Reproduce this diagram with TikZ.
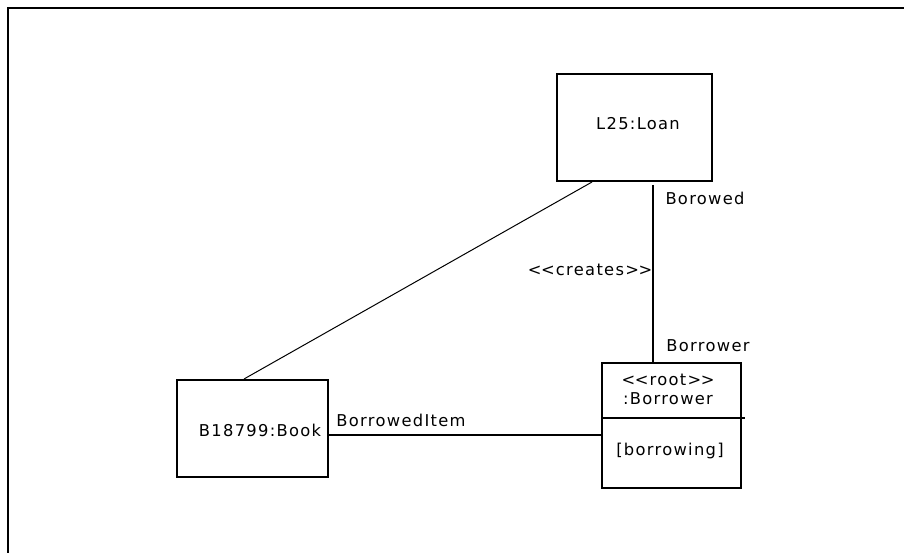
\documentclass[tikz,border=0pt]{standalone}
\usepackage{fontspec}
\setmainfont{DejaVu Sans}[LetterSpace=8]
\usetikzlibrary{calc}
% two angle brackets kept apart so they stay as typed
\newcommand{\dblopen}{<\kern-0.5pt<}
\newcommand{\dblclose}{>\kern-0.5pt>}
\begin{document}
\begin{tikzpicture}[x=1pt,y=-1pt,
  objbox/.style={draw,line width=2pt,minimum width=#1,inner sep=0pt},
  lbl/.style={font=\fontsize{16.3}{19}\selectfont,inner sep=0pt},
  thick link/.style={line width=2pt},
  thin link/.style={line width=1pt}]
  \useasboundingbox (0,0) rectangle (904,553);
  % outer frame (left and top edges)
  \draw[line width=2pt] (8,553) -- (8,8) -- (904,8);

  % objects
  \node[objbox=155pt,minimum height=107pt] (loan) at (634.5,127.5) {};
  \node[lbl] (loantxt) at (638,124) {L25:Loan};

  \node[objbox=151pt,minimum height=97pt] (book) at (252.5,428.5) {};
  \node[lbl] (booktxt) at (260,430) {B18799:Book};

  \node[objbox=139pt,minimum height=125pt] (borr) at (671.5,425.5) {};
  \node[lbl] (borrst) at (668,380) {\dblopen root\dblclose};
  \node[lbl] (borrnm) at (668,399) {:Borrower};
  \node[lbl] (borrstate) at (670,451) {[borrowing]};
  \coordinate (divL) at (602,418);
  \coordinate (divR) at (745,418);
  \draw[line width=2pt] (divL) -- (divR);

  % links
  \draw[thin link] ([xshift=36pt]loan.south west) -- ([xshift=68pt]book.north west);
  \draw[thick link] ([yshift=-3pt]loan.south -| 653,0) -- (borr.north -| 653,0);
  \draw[thick link] (book.east |- 0,435) -- (borr.west |- 0,435);

  % link labels
  \node[lbl] (lborowed) at (705,198) {Borowed};
  \node[lbl] (lcreates) at (590,270) {\dblopen creates\dblclose};
  \node[lbl] (lborrower) at (708,346) {Borrower};
  \node[lbl] (litem) at (401,420) {BorrowedItem};
\end{tikzpicture}
\end{document}
